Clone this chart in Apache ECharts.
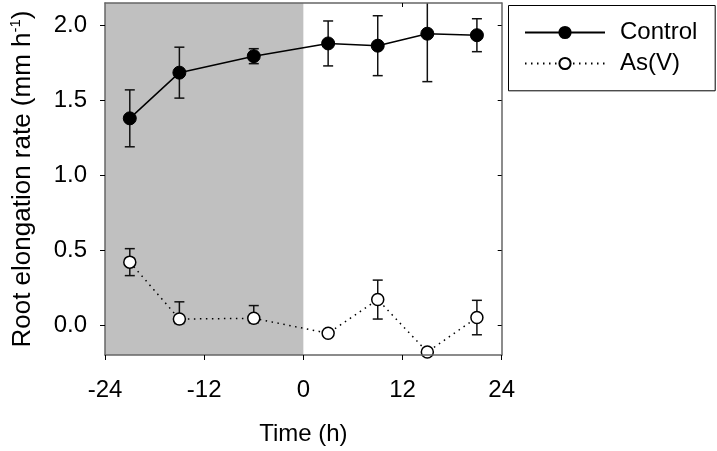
<!DOCTYPE html>
<html>
<head>
<meta charset="utf-8">
<script src="https://cdn.jsdelivr.net/npm/echarts@6/dist/echarts.min.js"></script>
<style>html,body{margin:0;padding:0;background:#fff;}#c{width:717px;height:451px;}</style>
</head>
<body>
<div id="c"></div>
<script>
// ---- data ----
const timeH = [-21, -15, -6, 3, 9, 15, 21];
const controlMean = [1.38, 1.685, 1.795, 1.88, 1.865, 1.945, 1.935];
const controlErrUp = [0.19, 0.17, 0.05, 0.15, 0.20, 0.32, 0.11];
const controlErrDown = [0.19, 0.17, 0.05, 0.15, 0.20, 0.32, 0.11];
const asMean = [0.42, 0.04, 0.045, -0.055, 0.17, -0.18, 0.05];
const asErrUp = [0.09, 0.115, 0.085, 0, 0.13, 0, 0.115];
const asErrDown = [0.09, 0.03, 0.03, 0, 0.13, 0, 0.115];
const xTicks = [-24, -12, 0, 12, 24];
const yTicks = [0, 0.5, 1.0, 1.5, 2.0];
const shadedRange = [-24, 0];
const seriesNames = ['Control', 'As(V)'];

const FONT = 'Liberation Sans';
const pts = (ys) => timeH.map((t, i) => [t, ys[i]]);
const errData = (ys, up, dn) => timeH.map((t, i) => [t, ys[i], up[i], dn[i]]);

function errRender(params, api) {
  const x = api.value(0), y = api.value(1), up = api.value(2), dn = api.value(3);
  if (up === 0 && dn === 0) return null;
  const top = api.coord([x, y + up]);
  const bot = api.coord([x, y - dn]);
  const cw = 5;
  const style = { stroke: '#111', lineWidth: 1.5 };
  return {
    type: 'group',
    children: [
      { type: 'line', shape: { x1: top[0], y1: top[1], x2: bot[0], y2: bot[1] }, style },
      { type: 'line', shape: { x1: top[0] - cw, y1: top[1], x2: top[0] + cw, y2: top[1] }, style },
      { type: 'line', shape: { x1: bot[0] - cw, y1: bot[1], x2: bot[0] + cw, y2: bot[1] }, style }
    ]
  };
}

const frameColor = '#666';
const chart = echarts.init(document.getElementById('c'), null, { renderer: 'canvas' });
chart.setOption({
  animation: false,
  backgroundColor: '#fff',
  textStyle: { fontFamily: FONT },
  grid: { left: 101.7, right: 215.3, top: 3, bottom: 95, containLabel: false },
  legend: {
    orient: 'vertical', left: 519, top: 15.5,
    itemWidth: 80, itemHeight: 14, itemGap: 7,
    textStyle: { fontFamily: FONT, fontSize: 24, color: '#000', lineHeight: 24, padding: [0, 0, 0, 10] },
    data: seriesNames
  },
  graphic: [{
    type: 'rect', left: 506, top: 3, z: 10,
    shape: { width: 206.7, height: 85.3 },
    style: { fill: 'none', stroke: '#000', lineWidth: 1 }
  }],
  xAxis: [{
    type: 'value', min: -24, max: 24, interval: 12, position: 'bottom', z: 5,
    name: 'Time (h)', nameLocation: 'middle', nameGap: 67,
    nameTextStyle: { fontFamily: FONT, fontSize: 24, color: '#000' },
    axisLine: { show: true, onZero: false, lineStyle: { color: frameColor, width: 1.5 } },
    axisTick: { show: true, inside: false, length: 5, lineStyle: { color: '#000', width: 1 } },
    axisLabel: { fontFamily: FONT, fontSize: 24, color: '#000', margin: 23, customValues: xTicks },
    splitLine: { show: false }
  }, {
    type: 'value', min: -24, max: 24, interval: 12, position: 'top', z: 5,
    axisLine: { show: true, onZero: false, lineStyle: { color: frameColor, width: 1.5 } },
    axisTick: { show: true, inside: true, length: 4, lineStyle: { color: '#000', width: 1 }, customValues: [12] },
    axisLabel: { show: false },
    splitLine: { show: false }
  }],
  yAxis: [{
    type: 'value', min: -0.2, max: 2.15, position: 'left', z: 5,
    name: 'Root elongation rate (mm h{sup|-1})', nameLocation: 'middle', nameGap: 67,
    nameRotate: 90,
    nameTextStyle: {
      fontFamily: FONT, fontSize: 26, color: '#000', lineHeight: 30,
      rich: { sup: { fontFamily: FONT, fontSize: 15, color: '#000', verticalAlign: 'top', lineHeight: 30, padding: [0, 0, 14, 0] } }
    },
    axisLine: { show: true, onZero: false, lineStyle: { color: frameColor, width: 1.5 } },
    axisTick: { show: true, inside: false, length: 5, lineStyle: { color: '#000', width: 1 }, customValues: yTicks },
    axisLabel: { fontFamily: FONT, fontSize: 24, color: '#000', margin: 18, customValues: yTicks,
      formatter: (v) => v.toFixed(1) },
    splitLine: { show: false }
  }, {
    type: 'value', min: -0.2, max: 2.15, position: 'right', z: 5,
    axisLine: { show: true, onZero: false, lineStyle: { color: frameColor, width: 1.5 } },
    axisTick: { show: true, inside: true, length: 4, lineStyle: { color: '#000', width: 1 }, customValues: yTicks },
    axisLabel: { show: false },
    splitLine: { show: false }
  }],
  series: [{
    name: 'shade', type: 'line', data: [], z: 1,
    markArea: {
      silent: true,
      itemStyle: { color: '#c0c0c0', opacity: 1 },
      data: [[{ xAxis: shadedRange[0], yAxis: -0.2 }, { xAxis: shadedRange[1], yAxis: 2.15 }]]
    }
  }, {
    name: 'ctrlErr', type: 'custom', z: 2, clip: true,
    renderItem: errRender, encode: { x: 0, y: 1 },
    data: errData(controlMean, controlErrUp, controlErrDown)
  }, {
    name: 'asErr', type: 'custom', z: 2, clip: true,
    renderItem: errRender, encode: { x: 0, y: 1 },
    data: errData(asMean, asErrUp, asErrDown)
  }, {
    name: seriesNames[0], type: 'line', z: 3,
    data: pts(controlMean),
    symbol: 'circle', symbolSize: 13,
    lineStyle: { color: '#000', width: 1.5, type: 'solid' },
    itemStyle: { color: '#000', borderColor: '#000', borderWidth: 1 }
  }, {
    name: seriesNames[1], type: 'line', z: 3,
    data: pts(asMean),
    symbol: 'circle', symbolSize: 12,
    lineStyle: { color: '#000', width: 1.5, type: [1.5, 4.5] },
    itemStyle: { color: '#fff', borderColor: '#000', borderWidth: 1.5 }
  }]
});
</script>
</body>
</html>
